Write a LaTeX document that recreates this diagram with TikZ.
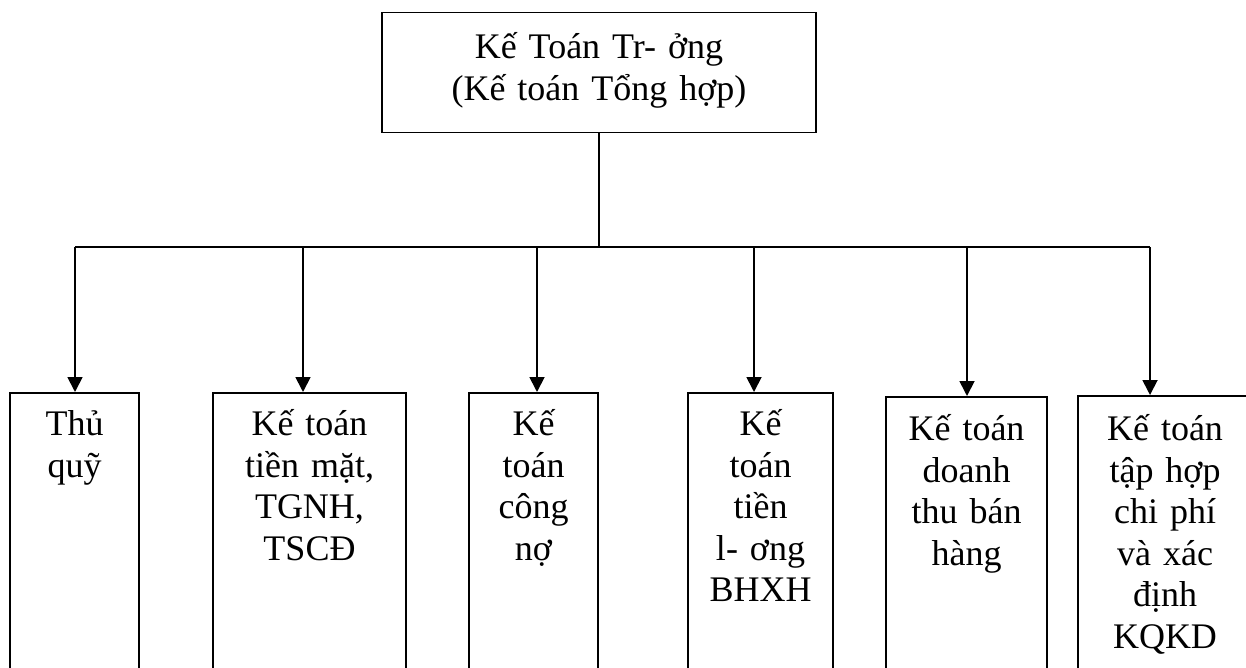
\documentclass[tikz,border=0pt]{standalone}
\usepackage{fontspec}
\setmainfont{Liberation Serif}
\usetikzlibrary{arrows.meta}
\tikzset{
  boxnode/.style={draw, line width=1.5pt, anchor=north, align=center, inner xsep=0pt, inner ysep=0pt,
    font=\fontsize{36}{41.5}\selectfont},
  conn/.style={line width=1.8pt},
  arr/.style={line width=1.8pt, -{Triangle[length=15pt,width=15pt]}}
}
\begin{document}
\begin{tikzpicture}[x=1pt,y=-1pt]
\useasboundingbox (0,0) rectangle (1246,668);
\clip (0,0) rectangle (1246,668);
\node[boxnode, text width=434pt, minimum width=434pt, text height=46pt, text depth=74pt] (top) at (599,12)
  {Kế Toán Tr- ởng\\(Kế toán Tổng hợp)};
\node[boxnode, text width=129pt, minimum width=129pt, text height=43pt, text depth=300pt] (b1) at (74.5,392)
  {Thủ\\quỹ};
\node[boxnode, text width=193pt, minimum width=193pt, text height=43pt, text depth=300pt] (b2) at (309.5,392)
  {Kế toán\\tiền mặt,\\TGNH,\\TSCĐ};
\node[boxnode, text width=129pt, minimum width=129pt, text height=43pt, text depth=300pt] (b3) at (533.5,392)
  {Kế\\toán\\công\\nợ};
\node[boxnode, text width=145pt, minimum width=145pt, text height=43pt, text depth=300pt] (b4) at (760.5,392)
  {Kế\\toán\\tiền\\l- ơng\\BHXH};
\node[boxnode, text width=161pt, minimum width=161pt, text height=44pt, text depth=300pt] (b5) at (966.5,396)
  {Kế toán\\doanh\\thu bán\\hàng};
\node[boxnode, text width=174pt, minimum width=174pt, text height=45pt, text depth=300pt] (b6) at (1165,395)
  {Kế toán\\tập hợp\\chi phí\\và xác\\định\\KQKD};
\coordinate (bus) at (599,247);
\coordinate (j1) at (75,247);
\coordinate (j2) at (303,247);
\coordinate (j3) at (537,247);
\coordinate (j4) at (754,247);
\coordinate (j5) at (967,247);
\coordinate (j6) at (1150,247);
\draw[conn] (top.south) -- (bus);
\draw[conn] (j1) -- (j6);
\draw[arr] (j1) -- (j1 |- b1.north);
\draw[arr] (j2) -- (j2 |- b2.north);
\draw[arr] (j3) -- (j3 |- b3.north);
\draw[arr] (j4) -- (j4 |- b4.north);
\draw[arr] (j5) -- (j5 |- b5.north);
\draw[arr] (j6) -- (j6 |- b6.north);
\end{tikzpicture}
\end{document}
